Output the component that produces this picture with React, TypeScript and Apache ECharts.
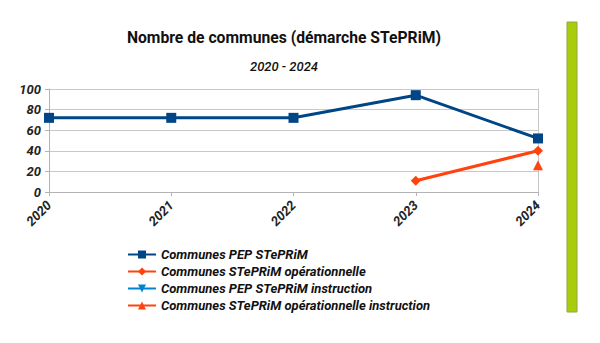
import React, { useEffect, useRef } from "react";
import * as echarts from "echarts";

const years = ["2020", "2021", "2022", "2023", "2024"];
const pepStepprim = [72, 72, 72, 94, 52];
const stepprimOperationnelle = [null, null, null, 11, 40];
const pepInstruction = [null, null, null, null, null];
const operationnelleInstruction = [null, null, null, null, 26];
const yTicks = [0, 20, 40, 60, 80, 100];

const FONT = "Roboto";

export default function App() {
  const ref = useRef<HTMLDivElement>(null);
  useEffect(() => {
    if (!ref.current) return;
    const chart = echarts.init(ref.current, undefined, { renderer: "svg" });
    const labelStyle = { fontFamily: FONT, fontWeight: "bold", fontStyle: "italic", fontSize: 13, color: "#222" };
    chart.setOption({
      animation: false,
      textStyle: { fontFamily: FONT },
      title: [
        {
          text: "Nombre de communes (démarche STePRiM)",
          left: 279,
          top: 24,
          textAlign: "center",
          textStyle: { fontFamily: FONT, fontWeight: "bold", fontSize: 15.7, color: "#111" },
        },
        {
          text: "2020 - 2024",
          left: 279,
          top: 55,
          textAlign: "center",
          textStyle: { fontFamily: FONT, fontWeight: 500, fontStyle: "italic", fontSize: 13, color: "#111" },
        },
      ],
      grid: { left: 49, right: 62, top: 89, bottom: 151, containLabel: false },
      xAxis: {
        type: "category",
        data: years,
        boundaryGap: false,
        axisLine: { show: true, lineStyle: { color: "#b3b3b3" } },
        axisTick: { show: true, alignWithLabel: true, length: 4, lineStyle: { color: "#b3b3b3" } },
        axisLabel: { ...labelStyle, rotate: 45, margin: 11 },
        splitLine: { show: false },
      },
      yAxis: [
        {
          type: "value",
          min: yTicks[0],
          max: yTicks[yTicks.length - 1],
          interval: 20,
          axisLine: { show: true, lineStyle: { color: "#b3b3b3" } },
          axisTick: { show: true, length: 4, lineStyle: { color: "#b3b3b3" } },
          axisLabel: { ...labelStyle, margin: 8 },
          splitLine: { show: true, lineStyle: { color: "#c8c8c8" } },
        },
        {
          type: "value",
          position: "right",
          min: yTicks[0],
          max: yTicks[yTicks.length - 1],
          interval: 20,
          axisLine: { show: true, lineStyle: { color: "#c8c8c8" } },
          axisTick: { show: false },
          axisLabel: { show: false },
          splitLine: { show: false },
        },
      ],
      legend: {
        orient: "vertical",
        left: 122,
        top: 243,
        itemGap: 4,
        itemWidth: 28,
        itemHeight: 10,
        textStyle: { fontFamily: FONT, fontWeight: "bold", fontStyle: "italic", fontSize: 13, color: "#111" },
      },
      series: [
        {
          name: "Communes PEP STePRiM",
          type: "line",
          data: pepStepprim,
          color: "#004586",
          lineStyle: { width: 3, color: "#004586" },
          symbol: "rect",
          symbolSize: 10,
          itemStyle: { color: "#004586" },
        },
        {
          name: "Communes STePRiM opérationnelle",
          type: "line",
          data: stepprimOperationnelle,
          color: "#ff420e",
          lineStyle: { width: 3, color: "#ff420e" },
          symbol: "diamond",
          symbolSize: 10,
          itemStyle: { color: "#ff420e" },
        },
        {
          name: "Communes PEP STePRiM instruction",
          type: "line",
          data: pepInstruction,
          color: "#0084d1",
          lineStyle: { width: 3, color: "#0084d1" },
          symbol: "triangle",
          symbolRotate: 180,
          symbolSize: 10,
          itemStyle: { color: "#0084d1" },
        },
        {
          name: "Communes STePRiM opérationnelle instruction",
          type: "line",
          data: operationnelleInstruction,
          color: "#ff420e",
          lineStyle: { width: 3, color: "#ff420e" },
          symbol: "triangle",
          symbolSize: 10,
          itemStyle: { color: "#ff420e" },
        },
      ],
      graphic: [
        {
          type: "rect",
          shape: { x: 567, y: 22, width: 10, height: 290 },
          style: { fill: "#a9cc0c", stroke: "#8fa83a", lineWidth: 1 },
        },
      ],
    });
    return () => chart.dispose();
  }, []);
  return <div ref={ref} style={{ width: 600, height: 343, margin: -8, background: "#fff" }} />;
}
